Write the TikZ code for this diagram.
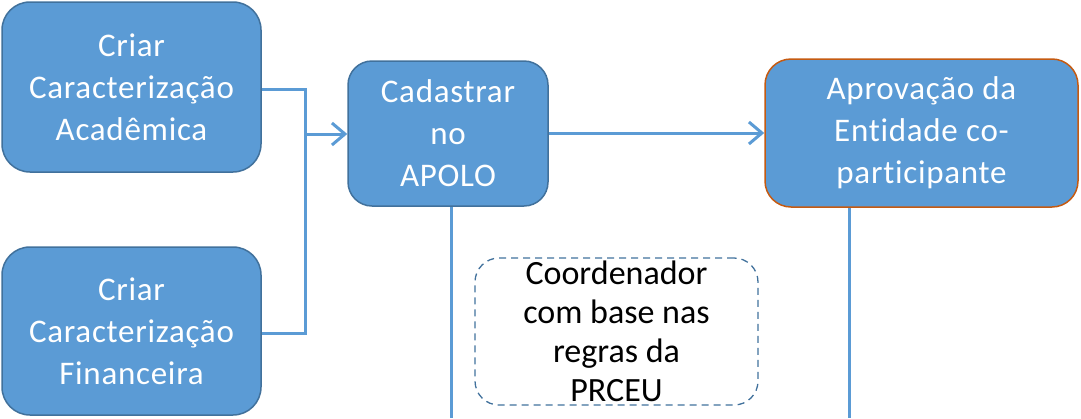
\documentclass[tikz,border=0pt]{standalone}
\usepackage{fontspec}
\setmainfont{Carlito}[Ligatures={NoCommon}]
\usetikzlibrary{arrows.meta}
\definecolor{boxfill}{HTML}{5B9BD5}
\definecolor{boxline}{HTML}{41719C}
\definecolor{orangeline}{HTML}{C55A11}
\definecolor{conn}{HTML}{5B9BD5}
\begin{document}
\begin{tikzpicture}[x=1pt,y=-1pt,
  box/.style={draw=boxline, line width=1.5pt, fill=boxfill, rounded corners=28pt, text=white,
    font=\fontsize{33}{42}\selectfont\addfontfeature{LetterSpace=2.2}, align=center, inner sep=0pt},
  dbox/.style={draw=boxline, line width=1.3pt, dash pattern=on 7pt off 5pt, rounded corners=24pt, inner sep=0pt},
  conline/.style={draw=conn, line width=3pt},
  arr/.style={conline, -{Straight Barb[length=13pt,width=22pt,line width=3pt]}}
]
\useasboundingbox (0,0) rectangle (1081,418);
\node[box, minimum width=259pt, minimum height=170pt] (a) at (131.5,87) {Criar\\Caracterização\\Acadêmica};
\node[box, minimum width=259pt, minimum height=168pt] (b) at (131.5,331) {Criar\\Caracterização\\Financeira};
\node[box, rounded corners=24pt, minimum width=200pt, minimum height=145pt] (c) at (448,133.5) {Cadastrar\\no\\APOLO};
\node[box, draw=orangeline, rounded corners=26pt, minimum width=313pt, minimum height=148pt] (d) at (921.5,133) {Aprovação da\\Entidade co-\\participante};
\node[dbox, minimum width=283pt, minimum height=147pt] (e) at (616.5,331.5) {};
\node[font=\fontsize{34}{39}\selectfont, align=center, text=black] (et) at (e.center) {Coordenador\\com base nas\\regras da\\PRCEU};
\coordinate (j) at (305,134);
\coordinate (cb) at (451,418);
\coordinate (db) at (849,418);
\draw[conline] (a.east |- 0,89) -- (305,89) -- (305,333) -- (b.east |- 0,333);
\draw[arr] (j) -- (c.west |- j);
\draw[arr] (c.east |- 0,133) -- (d.west |- 0,133);
\draw[conline] (c.south -| cb) -- (cb);
\draw[conline] (d.south -| db) -- (db);
\end{tikzpicture}
\end{document}
